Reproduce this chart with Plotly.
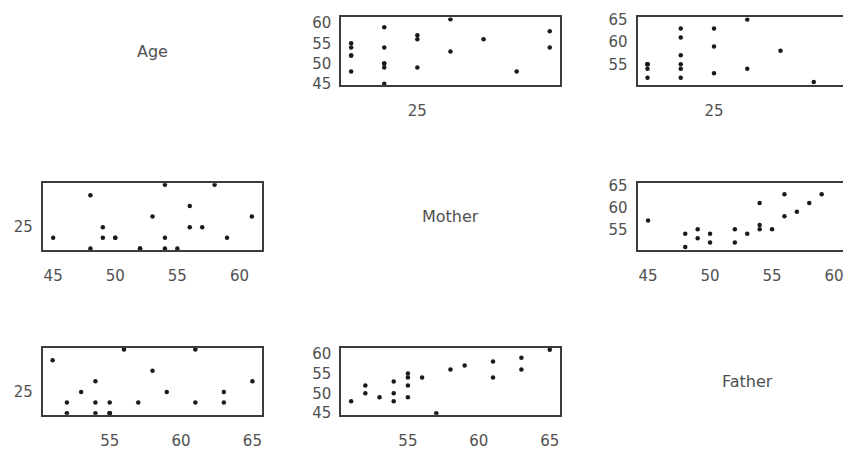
import plotly.graph_objects as go

# ---- data ----
age = [23, 23, 23, 23, 23, 24, 24, 24, 24, 24, 24, 25, 25, 25, 26, 26, 27, 28, 29, 29]
mother = [48, 55, 52, 52, 54, 59, 45, 54, 49, 50, 50, 57, 56, 49, 61, 53, 56, 48, 58, 54]
father = [54, 55, 55, 52, 55, 63, 57, 61, 55, 54, 52, 59, 63, 53, 65, 54, 58, 51, 61, 56]
var_names = ["Age", "Mother", "Father"]
age_ticks = [25]
mother_ticks = [45, 50, 55, 60]
father_ticks = [55, 60, 65]

values = {"Age": age, "Mother": mother, "Father": father}
ticks = {"Age": age_ticks, "Mother": mother_ticks, "Father": father_ticks}

# axis ranges (layout)
xr = {"Age": (22.7, 29.3), "Mother": (44.15, 61.85), "Father": (50.3, 65.7)}
yr = {"Age": (22.85, 29.15), "Mother": (44.6, 61.45), "Father": (50.3, 65.5)}

W, H = 851, 456
OFF = 8  # page body margin
col_px = [(42.7 - OFF, 263.0 - OFF), (342.0 - OFF, 561.0 - OFF), (639.0 - OFF, 859.0 - OFF)]
row_px = [(11.5 - OFF, 81.5 - OFF), (182.5 - OFF, 251.5 - OFF), (352.5 - OFF, 421.5 - OFF)]

FONT = "DejaVu Sans, Verdana, sans-serif"
TXT = "#505050"
LINE = "#3c3c3c"

fig = go.Figure()
layout = {}
annotations = []
k = 0
for i, xname in enumerate(var_names):       # row -> x variable
    for j, yname in enumerate(var_names):   # column -> y variable
        x0, x1 = col_px[j]
        y0, y1 = row_px[i]
        if i == j:
            annotations.append(dict(
                x=((x0 + x1) / 2) / W, y=1 - ((y0 + y1) / 2) / H,
                xref="paper", yref="paper", text=var_names[i], showarrow=False,
                xanchor="center", yanchor="middle",
                font=dict(family=FONT, size=16, color=TXT)))
            continue
        k += 1
        xa = "xaxis" if k == 1 else f"xaxis{k}"
        ya = "yaxis" if k == 1 else f"yaxis{k}"
        xs = "x" if k == 1 else f"x{k}"
        ys = "y" if k == 1 else f"y{k}"
        layout[xa] = dict(
            domain=[x0 / W, min(x1 / W, 1.0)], anchor=ys, range=list(xr[xname]),
            showgrid=False, zeroline=False, showline=True, mirror=True,
            linecolor=LINE, linewidth=1.7, tickvals=ticks[xname],
            ticks="outside", ticklen=11, tickcolor="rgba(0,0,0,0)",
            tickfont=dict(family=FONT, size=15, color=TXT))
        layout[ya] = dict(
            domain=[1 - y1 / H, 1 - y0 / H], anchor=xs, range=list(yr[yname]),
            showgrid=False, zeroline=False, showline=True, mirror=True,
            linecolor=LINE, linewidth=1.7, tickvals=ticks[yname],
            ticks="outside", ticklen=5, tickcolor="rgba(0,0,0,0)",
            tickfont=dict(family=FONT, size=15, color=TXT))
        fig.add_trace(go.Scatter(
            x=values[xname], y=values[yname], mode="markers", xaxis=xs, yaxis=ys,
            marker=dict(symbol="circle", size=4.5, color="#1a1a1a"),
            showlegend=False, hoverinfo="skip"))

fig.update_layout(
    width=W, height=H, margin=dict(l=0, r=0, t=0, b=0),
    paper_bgcolor="white", plot_bgcolor="white",
    annotations=annotations, **layout)
fig.write_html("out.html")
